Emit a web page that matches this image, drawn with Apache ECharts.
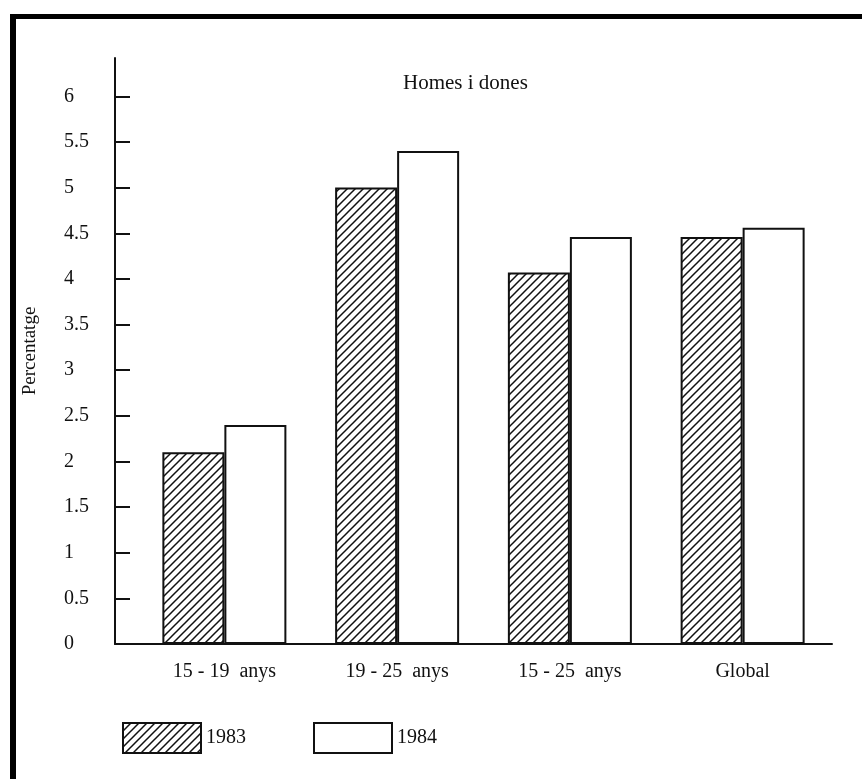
<!DOCTYPE html>
<html>
<head>
<meta charset="utf-8">
<title>Homes i dones</title>
<script src="https://cdn.jsdelivr.net/npm/echarts@6/dist/echarts.min.js"></script>
<style>
    html, body { margin: 0; padding: 0; background: #fff; }
    #wrap { position: relative; width: 862px; height: 779px; overflow: hidden; }
    #chart { position: absolute; left: 0; top: 0; width: 862px; height: 779px; }
    #frame {
        position: absolute; left: 10px; top: 14px; right: -10px; bottom: -10px;
        border-left: 6px solid #000; border-top: 5px solid #000;
        pointer-events: none;
    }
</style>
</head>
<body>
<div id="wrap">
    <div id="chart"></div>
    <div id="frame"></div>
</div>
<script>
// Dades llegides del gràfic
const categories = ['15 - 19  anys', '19 - 25  anys', '15 - 25  anys', 'Global'];
const values1983 = [2.1, 5.0, 4.07, 4.46];
const values1984 = [2.4, 5.4, 4.46, 4.56];
const yTicks = [0, 0.5, 1, 1.5, 2, 2.5, 3, 3.5, 4, 4.5, 5, 5.5, 6];
const yMax = 6.42;

const FONT = "'Liberation Serif', 'DejaVu Serif', serif";

document.addEventListener('DOMContentLoaded', function () {
    initChart();
});

// Trama de ratlles diagonals per a la sèrie 1983
function makeHatch() {
    const s = 8;
    const c = document.createElement('canvas');
    c.width = s;
    c.height = s;
    const ctx = c.getContext('2d');
    ctx.fillStyle = '#fff';
    ctx.fillRect(0, 0, s, s);
    ctx.strokeStyle = '#111';
    ctx.lineWidth = 1.5;
    ctx.beginPath();
    ctx.moveTo(-1, s + 1); ctx.lineTo(s + 1, -1);
    ctx.moveTo(-1, 1); ctx.lineTo(1, -1);
    ctx.moveTo(s - 1, s + 1); ctx.lineTo(s + 1, s - 1);
    ctx.stroke();
    return c;
}

function initChart() {
    const chartDom = document.getElementById('chart');
    const myChart = echarts.init(chartDom);
    const hatch = { image: makeHatch(), repeat: 'repeat' };

    const option = {
        backgroundColor: '#fff',
        animation: false,
        title: {
            text: 'Homes i dones',
            left: 398,
            top: 68,
            textStyle: { fontFamily: FONT, fontSize: 21, fontWeight: 'normal', color: '#111' }
        },
        legend: [
            {
                data: ['1983'], left: 117, top: 717, itemWidth: 78, itemHeight: 30,
                icon: 'rect', selectedMode: false,
                textStyle: { fontFamily: FONT, fontSize: 20, color: '#111' }
            },
            {
                data: ['1984'], left: 308, top: 717, itemWidth: 78, itemHeight: 30,
                icon: 'rect', selectedMode: false,
                textStyle: { fontFamily: FONT, fontSize: 20, color: '#111' }
            }
        ],
        grid: [
            // eixos visibles
            { left: 115, right: 30, top: 58, bottom: 135 },
            // barres
            { left: 138, right: 33, top: 58, bottom: 135 }
        ],
        xAxis: [
            {
                gridIndex: 0, type: 'value', min: 0, max: 1,
                axisLine: { show: true, lineStyle: { color: '#111', width: 2 } },
                axisTick: { show: false }, axisLabel: { show: false }, splitLine: { show: false }
            },
            {
                gridIndex: 1, type: 'category', data: categories,
                axisLine: { show: false }, axisTick: { show: false },
                axisLabel: { margin: 18, fontFamily: FONT, fontSize: 20, color: '#111' }
            }
        ],
        yAxis: [
            {
                gridIndex: 0, type: 'value', min: 0, max: yMax,
                name: 'Percentatge', nameLocation: 'middle', nameRotate: 90, nameGap: 75,
                nameTextStyle: { fontFamily: FONT, fontSize: 19, color: '#111' },
                axisLine: { show: true, lineStyle: { color: '#111', width: 2 } },
                axisTick: {
                    show: true, inside: true, length: 15, customValues: yTicks,
                    lineStyle: { color: '#111', width: 2 }
                },
                axisLabel: {
                    customValues: yTicks, align: 'left', margin: 51,
                    fontFamily: FONT, fontSize: 20, color: '#111'
                },
                splitLine: { show: false }
            },
            {
                gridIndex: 1, type: 'value', min: 0, max: yMax, show: false
            }
        ],
        series: [
            {
                name: '1983', type: 'bar', xAxisIndex: 1, yAxisIndex: 1,
                data: values1983, barWidth: 62, barGap: '0%',
                itemStyle: { color: hatch, borderColor: '#111', borderWidth: 2 }
            },
            {
                name: '1984', type: 'bar', xAxisIndex: 1, yAxisIndex: 1,
                data: values1984, barWidth: 62, barGap: '0%',
                itemStyle: { color: '#fff', borderColor: '#111', borderWidth: 2 }
            }
        ]
    };
    myChart.setOption(option);
    window.addEventListener('resize', () => myChart.resize());
}
</script>
</body>
</html>
